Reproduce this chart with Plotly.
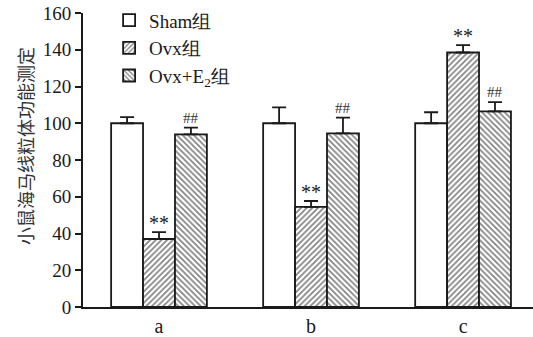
import plotly.graph_objects as go

categories = ["a", "b", "c"]
series_names = ["Sham组", "Ovx组", "Ovx+E<sub>2</sub>组"]
sham = [100, 100, 100]
ovx = [37, 54.5, 138.5]
ovx_e2 = [94, 94.5, 106.5]
sham_err = [3.3, 8.6, 6]
ovx_err = [3.7, 3.2, 4]
ovx_e2_err = [3.6, 8.6, 5]
ovx_marks = ["**", "**", "**"]
e2_marks = ["##", "##", "##"]
y_ticks = [0, 20, 40, 60, 80, 100, 120, 140, 160]
y_title = "小鼠海马线粒体功能测定"

bargap = 0.37
bar_w = (1 - bargap) / 3

patterns = ["", "/", "\\"]
values = [sham, ovx, ovx_e2]
errs = [sham_err, ovx_err, ovx_e2_err]

ink = "#1a1a1a"
fig = go.Figure()
for name, v, e, p in zip(series_names, values, errs, patterns):
    fig.add_trace(go.Bar(
        x=categories, y=v, name=name,
        marker=dict(color="white", line=dict(color=ink, width=1.8),
                    pattern=dict(shape=p, fgcolor="black", bgcolor="white", size=4, solidity=0.4)),
        error_y=dict(type="data", array=e, arrayminus=[0]*len(e), symmetric=False,
                     color=ink, thickness=1.8, width=7),
    ))

serif = "Liberation Serif"
for i in range(len(categories)):
    fig.add_annotation(x=i, y=ovx[i] + ovx_err[i], text=ovx_marks[i], showarrow=False,
                       yanchor="bottom", yshift=-4, font=dict(family=serif, size=20, color=ink))
    fig.add_annotation(x=i + bar_w, y=ovx_e2[i] + ovx_e2_err[i], text=e2_marks[i], showarrow=False,
                       yanchor="bottom", yshift=0, font=dict(family=serif, size=15, color="#333"))

fig.add_annotation(x=-83 / 450 + 25 / 450, y=0.548, xref="paper", yref="paper",
                   text=y_title, textangle=-90, showarrow=False,
                   xanchor="center", yanchor="middle",
                   font=dict(family="Noto Sans CJK SC", size=18, color="#333"))

fig.update_layout(
    width=533, height=337,
    margin=dict(l=83, r=0, t=13, b=25),
    paper_bgcolor="white", plot_bgcolor="white",
    barmode="group", bargap=bargap, bargroupgap=0,
    font=dict(family=serif, color=ink),
    showlegend=True,
    legend=dict(x=0.058, y=1.04, xanchor="left", yanchor="top",
                font=dict(family=serif, size=19, color=ink),
                bgcolor="rgba(0,0,0,0)", tracegroupgap=0, itemwidth=30),
    xaxis=dict(range=[-0.5, 2.46], showline=True, linecolor=ink, linewidth=1.8,
               ticks="", tickfont=dict(family=serif, size=20), showgrid=False),
    yaxis=dict(range=[0, 160], tickvals=y_ticks, showline=True, linecolor=ink, linewidth=1.8,
               ticks="outside", ticklen=6, tickwidth=1.8, tickcolor=ink,
               tickfont=dict(family=serif, size=19), showgrid=False, zeroline=False),
)

fig.write_html("out.html")
